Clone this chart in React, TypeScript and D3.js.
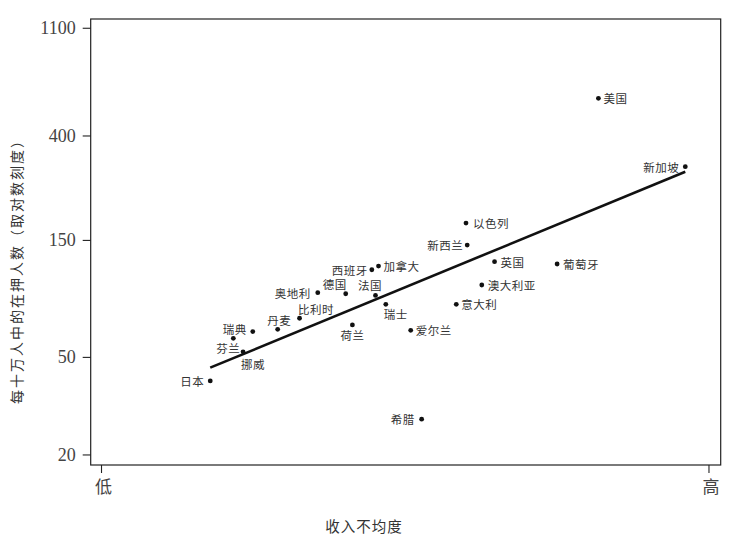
import React from "react";
import * as d3 from "d3";

// ---- data ----
const countries = [
  "日本", "芬兰", "瑞典", "挪威", "丹麦", "比利时", "奥地利", "德国",
  "西班牙", "加拿大", "法国", "瑞士", "荷兰", "爱尔兰", "以色列", "新西兰",
  "英国", "葡萄牙", "澳大利亚", "意大利", "希腊", "美国", "新加坡",
];
// income inequality (0 = 低, 1 = 高)
const inequality = [
  0.179, 0.217, 0.249, 0.233, 0.29, 0.326, 0.356, 0.402,
  0.445, 0.456, 0.451, 0.468, 0.413, 0.509, 0.6, 0.602,
  0.647, 0.75, 0.626, 0.584, 0.527, 0.818, 0.961,
];
// prisoners per 100,000
const prisoners = [
  40.1, 59.8, 63.7, 52.7, 65.1, 72.2, 91.8, 90.9,
  113.9, 117.9, 89.5, 82.3, 67.8, 64.5, 176.6, 143.6,
  122.8, 120.2, 98.7, 82.3, 28.0, 569.7, 299.8,
];
const trendX = [0.179, 0.961];
const trendY = [45.4, 285.9];
const yTicks = [20, 50, 150, 400, 1100];
const xTicks = [0, 1];
const xTickLabels = ["低", "高"];
const yTitle = "每十万人中的在押人数（取对数刻度）";
const xTitle = "收入不均度";

// label placement: [anchor, dx, dy]
const labelPlacement: Record<string, [string, number, number]> = {
  日本: ["end", -6, 0],
  芬兰: ["middle", -5, 10],
  瑞典: ["end", -6, -3],
  挪威: ["start", -2, 12],
  丹麦: ["middle", 1.5, -9],
  比利时: ["start", -1.5, -9],
  奥地利: ["end", -7, 0],
  德国: ["end", 1, -10],
  西班牙: ["end", -4, 0],
  加拿大: ["start", 5, 0],
  法国: ["middle", -5.5, -10],
  瑞士: ["start", -2, 10],
  荷兰: ["middle", 0, 10],
  爱尔兰: ["start", 5, 0],
  以色列: ["start", 7, 0],
  新西兰: ["end", -4, 0],
  英国: ["start", 6, 0],
  葡萄牙: ["start", 6, 0],
  澳大利亚: ["start", 6, 0],
  意大利: ["start", 5, 0],
  希腊: ["end", -7, 0],
  美国: ["start", 5, 0],
  新加坡: ["end", -6, 0],
};

const W = 729;
const H = 538;
const left = 90.7;
const right = 720.7;
const top = 19;
const bottom = 465;

export default function App() {
  const x = d3.scaleLinear().domain([-0.0178, 1.0193]).range([left, right]);
  const y = d3.scaleLog().domain([18.2, 1200]).range([bottom, top]);
  const line = d3
    .line<number>()
    .x((d) => x(trendX[d]))
    .y((d) => y(trendY[d]));

  const cjk = "'Noto Sans CJK SC', sans-serif";
  const serif = "'Liberation Serif', 'DejaVu Serif', serif";

  return (
    <svg
      width={W}
      height={H}
      style={{ position: "fixed", left: 0, top: 0, background: "#fff" }}
    >
      <rect x={0} y={0} width={W} height={H} fill="#fff" />
      {/* frame */}
      <rect
        x={left}
        y={top}
        width={right - left}
        height={bottom - top}
        fill="none"
        stroke="#222"
        strokeWidth={1.2}
      />
      {/* y axis ticks */}
      {yTicks.map((t) => (
        <g key={t}>
          <line x1={left - 8} x2={left} y1={y(t)} y2={y(t)} stroke="#222" strokeWidth={1.1} />
          <text
            x={left - 15}
            y={y(t)}
            textAnchor="end"
            dominantBaseline="central"
            fontFamily={serif}
            fontSize={18}
            fill="#444"
          >
            {t}
          </text>
        </g>
      ))}
      {/* x axis ticks */}
      {xTicks.map((t, i) => (
        <g key={t}>
          <line x1={x(t)} x2={x(t)} y1={bottom} y2={bottom + 8} stroke="#222" strokeWidth={1.1} />
          <text
            x={x(t) + 2}
            y={bottom + 20}
            textAnchor="middle"
            dominantBaseline="central"
            fontFamily={cjk}
            fontSize={17}
            fill="#444"
          >
            {xTickLabels[i]}
          </text>
        </g>
      ))}
      {/* titles */}
      <text
        transform={`translate(16,268) rotate(-90)`}
        textAnchor="middle"
        dominantBaseline="central"
        fontFamily={cjk}
        fontSize={14}
        letterSpacing={2}
        fill="#333"
      >
        {yTitle}
      </text>
      <text
        x={364}
        y={525}
        textAnchor="middle"
        dominantBaseline="central"
        fontFamily={cjk}
        fontSize={14.5}
        letterSpacing={1}
        fill="#333"
      >
        {xTitle}
      </text>
      {/* trend line */}
      <path d={line([0, 1]) || ""} stroke="#111" strokeWidth={2.6} fill="none" />
      {/* points */}
      {countries.map((c, i) => {
        const [anchor, dx, dy] = labelPlacement[c];
        const px = x(inequality[i]);
        const py = y(prisoners[i]);
        return (
          <g key={c}>
            <circle cx={px} cy={py} r={2.4} fill="#111" />
            <text
              x={px + dx}
              y={py + dy}
              textAnchor={anchor as any}
              dominantBaseline="central"
              fontFamily={cjk}
              fontSize={11.5}
              letterSpacing={0.5}
              fill="#333"
            >
              {c}
            </text>
          </g>
        );
      })}
    </svg>
  );
}
